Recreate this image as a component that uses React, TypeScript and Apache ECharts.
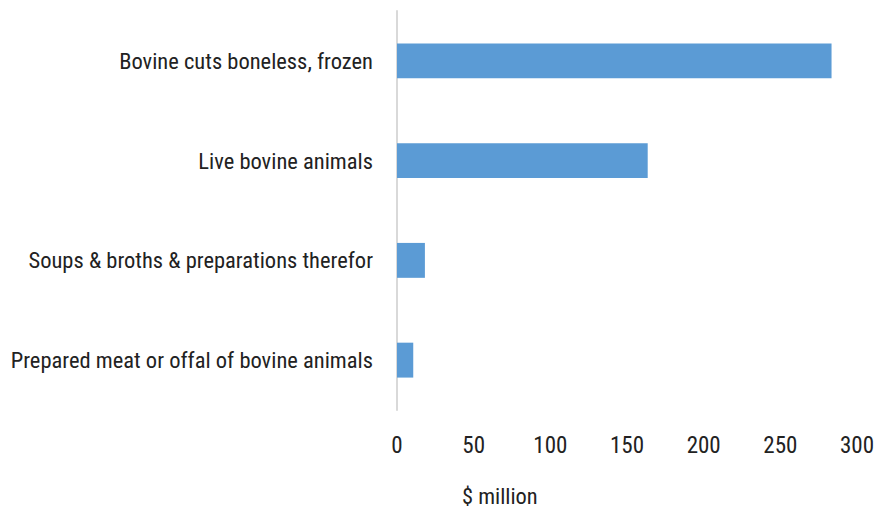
import React, { useEffect, useRef } from "react";
import * as echarts from "echarts";

// Export values, $ million
const categories = [
  "Bovine cuts boneless, frozen",
  "Live bovine animals",
  "Soups & broths & preparations therefor",
  "Prepared meat or offal of bovine animals",
];
const values = [283.4, 163.5, 18.2, 10.6];
const axisTicks = [0, 50, 100, 150, 200, 250, 300];
const axisTitle = "$ million";

const FONT = "'Liberation Sans Narrow', 'Roboto Condensed', 'Arial Narrow', 'DejaVu Sans Condensed', sans-serif";

export default function App() {
  const ref = useRef<HTMLDivElement>(null);

  useEffect(() => {
    if (!ref.current) return;
    const chart = echarts.init(ref.current, null, { renderer: "svg" });
    chart.setOption({
      animation: false,
      backgroundColor: "#ffffff",
      grid: {
        left: 397,
        right: 19,
        top: 11,
        bottom: 98,
        containLabel: false,
        outerBoundsMode: "none",
      },
      xAxis: {
        type: "value",
        min: axisTicks[0],
        max: axisTicks[axisTicks.length - 1],
        interval: axisTicks[1] - axisTicks[0],
        axisLine: { show: false },
        axisTick: { show: false },
        splitLine: { show: false },
        axisLabel: {
          margin: 24,
          color: "#222222",
          fontFamily: FONT,
          fontSize: 23,
        },
      },
      yAxis: {
        type: "category",
        data: categories,
        inverse: true,
        axisLine: { show: true, lineStyle: { color: "#d9d9d9", width: 2 } },
        axisTick: { show: false },
        axisLabel: {
          margin: 24,
          color: "#222222",
          fontFamily: FONT,
          fontSize: 22.5,
        },
      },
      series: [
        {
          type: "bar",
          data: values,
          barWidth: "35%",
          itemStyle: { color: "#5b9bd5" },
        },
      ],
      graphic: [
        {
          type: "text",
          left: 462,
          top: 485,
          style: {
            text: axisTitle,
            fill: "#222222",
            font: `22.4px ${FONT}`,
          },
        },
      ],
    });
    return () => chart.dispose();
  }, []);

  return (
    <div
      ref={ref}
      style={{ position: "fixed", left: 0, top: 0, width: 876, height: 508 }}
    />
  );
}
